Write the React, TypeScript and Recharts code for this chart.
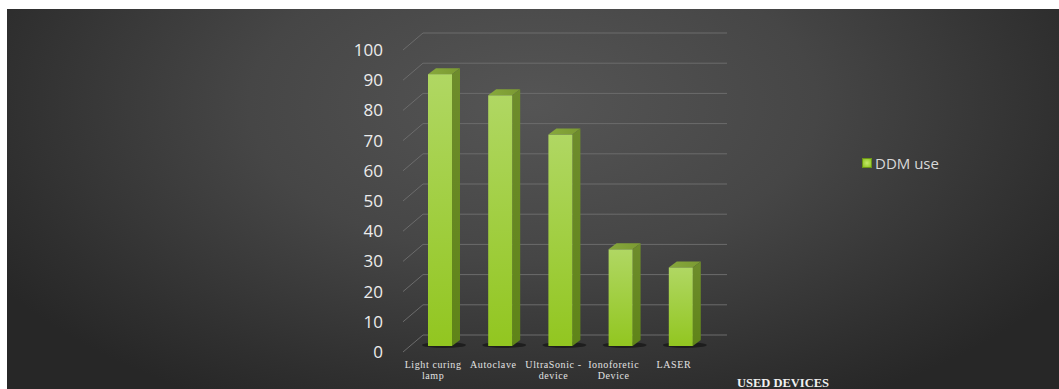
import React from 'react';
import { BarChart, Bar, XAxis, YAxis, CartesianGrid, Legend } from 'recharts';

const categories = ['Light curing|lamp', 'Autoclave', 'UltraSonic -|device', 'Ionoforetic|Device', 'LASER'];
const ddmUse = [90, 83, 70, 32, 26];
const yTicks = [0, 10, 20, 30, 40, 50, 60, 70, 80, 90, 100];
const seriesName = 'DDM use';
const axisTitle = 'USED DEVICES';

const data = categories.map((c, i) => ({ name: c, value: ddmUse[i] }));

const DEPTH_X = 8;
const DEPTH_Y = 6;

const Bar3D = (props: any) => {
  const { x, y, width, height } = props;
  if (height <= 0) return null;
  const b = y + height;
  return (
    <g>
      <ellipse cx={x + width / 2 + 4} cy={b - 1} rx={width / 2 + 10} ry={3} fill="#141414" opacity={0.7} />
      <polygon
        points={`${x},${y} ${x + DEPTH_X},${y - DEPTH_Y} ${x + width + DEPTH_X},${y - DEPTH_Y} ${x + width},${y}`}
        fill="url(#topGrad)"
      />
      <polygon
        points={`${x + width},${y} ${x + width + DEPTH_X},${y - DEPTH_Y} ${x + width + DEPTH_X},${b - DEPTH_Y} ${x + width},${b}`}
        fill="url(#sideGrad)"
      />
      <rect x={x} y={y} width={width} height={height} fill="url(#frontGrad)" />
    </g>
  );
};

const YTick = (props: any) => {
  const { x, y, payload } = props;
  return (
    <text x={x} y={y + 6} dy={6} textAnchor="end" fill="#ececec" fontSize={17} fontFamily="'Open Sans', sans-serif">
      {payload.value}
    </text>
  );
};

const XTick = (props: any) => {
  const { x, y, payload } = props;
  const lines = String(payload.value).split('|');
  return (
    <g>
      {lines.map((l, i) => (
        <text
          key={i}
          x={x - 7}
          y={y + 14 + i * 11}
          textAnchor="middle"
          fill="#e2e2e2"
          fontSize={10}
          fontFamily="'Liberation Serif', serif"
          letterSpacing={0.6}
        >
          {l}
        </text>
      ))}
    </g>
  );
};

const GridLine = (props: any) => {
  const { x1, x2, y1 } = props;
  const bx = 13;
  const by = -11;
  return (
    <g key={props.key}>
      <line x1={x1 - 7} y1={y1 + 6} x2={x1 + bx} y2={y1 + by} stroke="#6c6c6c" strokeWidth={1} />
      <line x1={x1 + bx} y1={y1 + by} x2={x2 + 16} y2={y1 + by} stroke="#6c6c6c" strokeWidth={1} />
    </g>
  );
};

const AxisTitle = (props: any) => {
  const vb = props.viewBox || {};
  return (
    <text
      x={vb.x + vb.width + 26}
      y={vb.y + 41}
      fill="#f0f0f0"
      fontSize={12.5}
      fontWeight="bold"
      fontFamily="'Liberation Serif', serif"
    >
      {axisTitle}
    </text>
  );
};

const LegendContent = () => (
  <div style={{ height: 0, overflow: 'visible' }}>
    <div style={{ display: 'flex', alignItems: 'center', height: 20 }}>
      <div
        style={{
          width: 8,
          height: 8,
          background: 'radial-gradient(circle, #c4e86a 0%, #8cc21e 100%)',
          border: '1px solid #6c9418',
          marginRight: 3,
        }}
      />
      <span style={{ color: '#d8d8d8', fontSize: 15, fontFamily: "'Open Sans', sans-serif", whiteSpace: 'nowrap' }}>
        {seriesName}
      </span>
    </div>
  </div>
);

export default function App() {
  return (
    <div style={{ position: 'absolute', left: 0, top: 0, width: 1059, height: 389, overflow: 'hidden', background: '#fff' }}>
      <div
        style={{
          position: 'absolute',
          left: 7,
          top: 9,
          width: 1052,
          height: 380,
          background: 'radial-gradient(ellipse 60% 90% at 50% 25%, #555555 0%, #464646 45%, #2f2f2f 85%, #272727 100%)',
        }}
      />
      <div style={{ position: 'absolute', left: 0, top: 0 }}>
        <BarChart
          width={1059}
          height={389}
          data={data}
          margin={{ top: 44, right: 348, bottom: 0, left: 350 }}
          barSize={24}
        >
          <defs>
            <linearGradient id="frontGrad" x1="0" y1="0" x2="0" y2="1">
              <stop offset="0%" stopColor="#b0d763" />
              <stop offset="100%" stopColor="#92c620" />
            </linearGradient>
            <linearGradient id="sideGrad" x1="0" y1="0" x2="0" y2="1">
              <stop offset="0%" stopColor="#6e8c2c" />
              <stop offset="100%" stopColor="#5f8418" />
            </linearGradient>
            <linearGradient id="topGrad" x1="0" y1="0" x2="1" y2="0">
              <stop offset="0%" stopColor="#87a83c" />
              <stop offset="100%" stopColor="#7b9a32" />
            </linearGradient>
          </defs>
          <CartesianGrid vertical={false} horizontal={GridLine as any} />
          <XAxis
            dataKey="name"
            axisLine={false}
            tickLine={false}
            height={43}
            tick={<XTick />}
            interval={0}
            label={<AxisTitle />}
          />
          <YAxis
            domain={[0, 100]}
            ticks={yTicks}
            axisLine={false}
            tickLine={false}
            tickSize={0}
            tickMargin={27}
            width={60}
            tick={<YTick />}
            interval={0}
          />
          <Legend
            content={<LegendContent />}
            wrapperStyle={{ position: 'absolute', left: 862, top: 153, width: 'auto', height: 0 }}
          />
          <Bar dataKey="value" name={seriesName} shape={<Bar3D />} isAnimationActive={false} />
        </BarChart>
      </div>
    </div>
  );
}
